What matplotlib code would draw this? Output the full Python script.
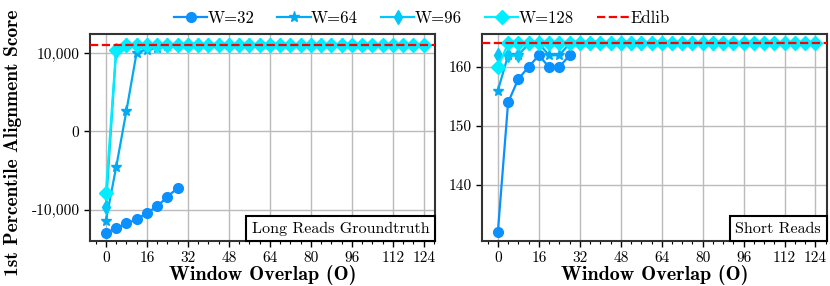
import numpy as np
import matplotlib
matplotlib.use('Agg')
import matplotlib.pyplot as plt
from matplotlib.ticker import FuncFormatter, MultipleLocator
from matplotlib.offsetbox import AnchoredText

plt.rcParams['font.family'] = 'cmr10'
plt.rcParams['axes.unicode_minus'] = False
plt.rcParams['mathtext.fontset'] = 'cm'

# window overlap values, O < W
overlaps = np.arange(0, 128, 4)
widths = [32, 64, 96, 128]
labels = ['W=32', 'W=64', 'W=96', 'W=128']
colors = ['#0A90FF', '#00AAF5', '#00C8FA', '#00EEFF']
markers = ['o', '*', 'd', 'D']

# long reads groundtruth, 1st percentile score
long_w32 = [-12950, -12350, -11750, -11240, -10380, -9570, -8330, -7220]
long_w64 = [-11400, -4580, 2600, 10090, 10470, 10680, 10900, 11000] + [11050] * 8
long_w96 = [-9700, 10300] + [11100] * 22
long_w128 = [-7900, 10450] + [11100] * 30
long_edlib = 11100

# short reads
short_w32 = [132, 154, 158, 160, 162, 160, 160, 162]
short_w64 = [156, 162, 162, 164, 164, 162, 162, 164] + [164] * 8
short_w96 = [162, 162, 162, 164] + [164] * 20
short_w128 = [160, 164, 164, 164] + [164] * 28
short_edlib = 164

fig = plt.figure(figsize=(8.3, 2.86), dpi=100)
ax1 = fig.add_axes([0.1084, 0.157, 0.4157, 0.724])
ax2 = fig.add_axes([0.5807, 0.157, 0.4153, 0.724])

for ax, series, edlib, box in [
        (ax1, [long_w32, long_w64, long_w96, long_w128], long_edlib, 'Long Reads Groundtruth'),
        (ax2, [short_w32, short_w64, short_w96, short_w128], short_edlib, 'Short Reads')]:
    for vals, lab, c, m in zip(series, labels, colors, markers):
        ms = 8 if m == '*' else 7
        ax.plot(overlaps[:len(vals)], vals, color=c, marker=m, markersize=ms,
                linewidth=1.6, label=lab, zorder=3)
    ax.axhline(edlib, color='red', linestyle='--', linewidth=1.6, label='Edlib', zorder=4)
    ax.set_xlim(-6.2, 128.4)
    ax.set_xticks([0, 16, 32, 48, 64, 80, 96, 112, 124])
    ax.xaxis.set_minor_locator(MultipleLocator(4))
    ax.grid(True, which='major', color='#bbbbbb', linewidth=1.0, zorder=0)
    ax.tick_params(axis='both', which='major', labelsize=11, length=4, width=1)
    ax.tick_params(axis='x', which='minor', length=2, width=0.8)
    for s in ax.spines.values():
        s.set_linewidth(1.5)
        s.set_color('#333333')
    ax.set_xlabel('Window Overlap (O)', fontfamily='cmb10', fontsize=14.5, labelpad=0)
    at = AnchoredText(box, loc='lower right', frameon=True, borderpad=0, pad=0.35,
                      prop=dict(size=11.5, family='cmr10'))
    at.patch.set_linewidth(1.5)
    at.zorder = 5
    ax.add_artist(at)

ax1.set_ylim(-14000, 12450)
ax1.set_yticks([-10000, 0, 10000])
ax1.yaxis.set_major_formatter(FuncFormatter(lambda v, p: '{:,.0f}'.format(v)))
ax2.set_ylim(130.5, 165.6)
ax2.set_yticks([140, 150, 160])

fig.text(0.016, 0.5, '1st Percentile Alignment Score', rotation=90,
         fontfamily='cmb10', fontsize=14, ha='center', va='center')

handles, labs = ax1.get_legend_handles_labels()
fig.legend(handles, labs, loc='center', bbox_to_anchor=(0.508, 0.937), ncol=5,
           frameon=False, fontsize=12, handlelength=2.0, columnspacing=1.4,
           handletextpad=0.0)

fig.savefig('out.png', dpi=100)
